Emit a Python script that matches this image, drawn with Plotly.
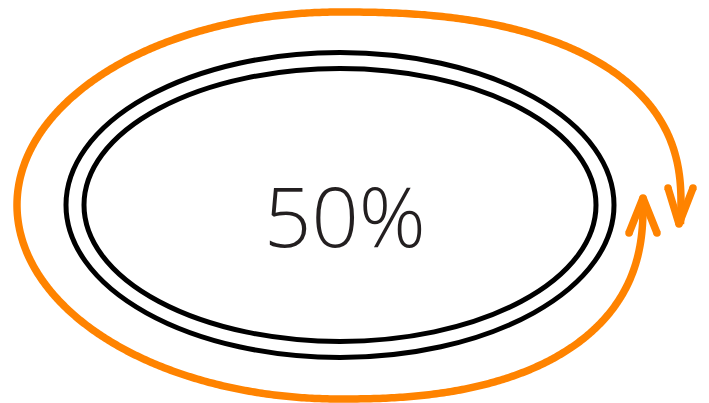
import numpy as np
import plotly.graph_objects as go

# ---- data ----
progress_value = [50]          # percent shown in the centre
progress_label = ["50%"]

# ---- geometry (pixel space of a 709x403 canvas) ----
W, H = 709, 403
CX, CY = 340, 205


def quadrant(cx, cy, a, b, n, th0, th1, num=200):
    th = np.radians(np.linspace(th0, th1, num))
    c, s = np.cos(th), np.sin(th)
    x = cx + a * np.sign(c) * np.abs(c) ** (2.0 / n)
    y = cy - b * np.sign(s) * np.abs(s) ** (2.0 / n)
    return x, y


def end_angle(dy, b, n):
    return np.degrees(np.arcsin((abs(dy) / b) ** (n / 2.0)))


tip_down = (679, 224)
tip_up = (643, 198)
n_tr, n_br = 2.4, 2.4
# top arc: from the down-arrow tip back over the top to the left point
e1 = -end_angle(tip_down[1] - CY, 193, n_tr)
x1, y1 = quadrant(CX, CY, 341, 193, n_tr, e1, 90)
x2, y2 = quadrant(CX, CY, 323, 193, 2.0, 90, 180)
# bottom arc: from left point down, along the bottom, up to the up-arrow tip
x3, y3 = quadrant(CX, CY, 323, 194, 2.0, 180, 270)
e2 = 360 + end_angle(tip_up[1] - CY, 194, n_br)
x4, y4 = quadrant(CX, CY, 303, 194, n_br, 270, e2)

ox = np.concatenate([x1, x2[1:], x3[1:], x4[1:]])
oy = np.concatenate([y1, y2[1:], y3[1:], y4[1:]])

ORANGE = "#ff8300"
OW = 7.5

fig = go.Figure()

# black concentric ellipses
for (rx, ry) in [(274, 152.5), (256, 136.5)]:
    fig.add_shape(type="circle", xref="x", yref="y",
                  x0=CX - rx, x1=CX + rx, y0=CY - ry, y1=CY + ry,
                  line=dict(color="black", width=5))

fig.add_trace(go.Scatter(x=ox, y=oy, mode="lines",
                         line=dict(color=ORANGE, width=OW, simplify=False),
                         hoverinfo="skip"))

# arrow heads (open V)
heads = [
    [(668, 188), tip_down, (693, 188)],
    [(629, 233), tip_up, (657, 233)],
]
for h in heads:
    fig.add_trace(go.Scatter(x=[p[0] for p in h], y=[p[1] for p in h],
                             mode="lines+markers",
                             line=dict(color=ORANGE, width=OW),
                             marker=dict(color=ORANGE, size=OW),
                             hoverinfo="skip"))

fig.add_annotation(x=345, y=214, xref="x", yref="y",
                   text=progress_label[0], showarrow=False,
                   font=dict(family="Open Sans", size=83, color="#231f20",
                             weight=300),
                   xanchor="center", yanchor="middle")

fig.update_layout(
    width=W, height=H,
    margin=dict(l=0, r=0, t=0, b=0),
    paper_bgcolor="white", plot_bgcolor="white",
    showlegend=False,
    xaxis=dict(range=[0, W], visible=False, fixedrange=True),
    yaxis=dict(range=[H, 0], visible=False, fixedrange=True),
)

fig.write_html("out.html", config={"displayModeBar": False},
               post_script="document.body.style.margin='0';")
